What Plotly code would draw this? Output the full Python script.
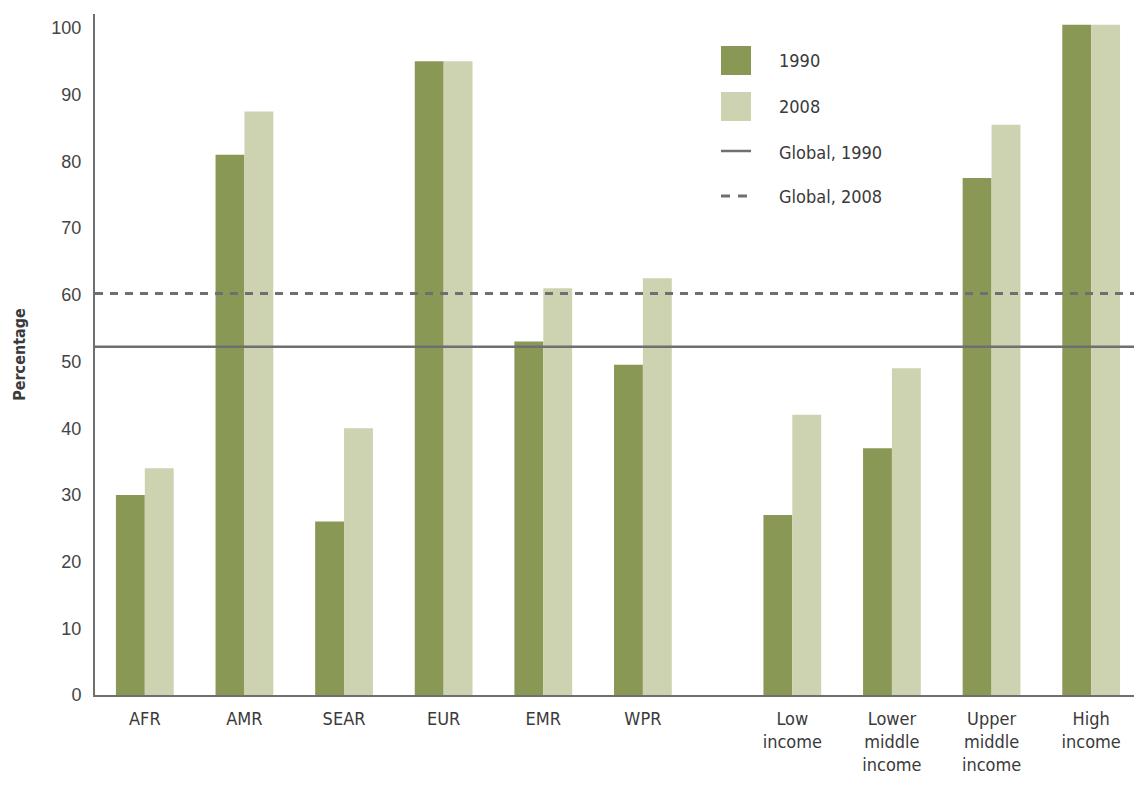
import plotly.graph_objects as go

categories = ["AFR", "AMR", "SEAR", "EUR", "EMR", "WPR",
              "Low<br>income", "Lower<br>middle<br>income", "Upper<br>middle<br>income", "High<br>income"]
x_pos = [0, 1, 2, 3, 4, 5, 6.5, 7.5, 8.5, 9.5]
v1990 = [30, 81, 26, 95, 53, 49.5, 27, 37, 77.5, 100.5]
v2008 = [34, 87.5, 40, 95, 61, 62.5, 42, 49, 85.5, 100.5]
global_1990 = 52.2
global_2008 = 60.2
y_ticks = [0, 10, 20, 30, 40, 50, 60, 70, 80, 90, 100]

C1990 = "#8a9856"
C2008 = "#cdd3b1"
GRAY = "#6f6f6f"
TXT = "#3a3a3a"
COND = "Liberation Sans Narrow, DejaVu Sans Condensed, Arial Narrow, Liberation Sans, sans-serif"

W, H = 1134, 796
L, R, T, B = 95, 0, 14, 101
PW, PH = W - L - R, H - T - B

def px(x):
    return (x - L) / PW

def py(y):
    return (H - B - y) / PH

fig = go.Figure()
fig.add_trace(go.Bar(x=x_pos, y=v1990, name="1990", marker_color=C1990, marker_line_width=0))
fig.add_trace(go.Bar(x=x_pos, y=v2008, name="2008", marker_color=C2008, marker_line_width=0))

fig.add_hline(y=global_1990, line=dict(color=GRAY, width=2.5, dash="solid"))
fig.add_hline(y=global_2008, line=dict(color=GRAY, width=3, dash="8px,7px"))

# legend
fig.add_shape(type="rect", xref="paper", yref="paper", x0=px(721), x1=px(751), y0=py(75), y1=py(46),
              fillcolor=C1990, line_width=0)
fig.add_shape(type="rect", xref="paper", yref="paper", x0=px(721), x1=px(751), y0=py(121), y1=py(92),
              fillcolor=C2008, line_width=0)
fig.add_shape(type="line", xref="paper", yref="paper", x0=px(721), x1=px(751), y0=py(151), y1=py(151),
              line=dict(color=GRAY, width=2.5))
fig.add_shape(type="line", xref="paper", yref="paper", x0=px(721), x1=px(751), y0=py(196), y1=py(196),
              line=dict(color=GRAY, width=3, dash="9px,8px"))

for txt, yy in [("1990", 61), ("2008", 106), ("Global, 1990", 152), ("Global, 2008", 197)]:
    fig.add_annotation(x=px(777), y=py(yy), xref="paper", yref="paper", text=txt, showarrow=False,
                       xanchor="left", yanchor="middle", font=dict(family=COND, size=18, color=TXT))

fig.update_layout(
    width=W, height=H,
    margin=dict(l=L, r=R, t=T, b=B),
    plot_bgcolor="white", paper_bgcolor="white",
    barmode="group", bargap=0.42, bargroupgap=0,
    showlegend=False,
    xaxis=dict(range=[-0.5, 9.93], tickvals=x_pos, ticktext=categories, showgrid=False, zeroline=False,
               showline=True, linecolor=GRAY, linewidth=2, ticks="", ticklabelstandoff=6,
               tickfont=dict(family=COND, size=18, color=TXT)),
    yaxis=dict(range=[0, 102.1], tickvals=y_ticks, showgrid=False, zeroline=False,
               showline=True, linecolor=GRAY, linewidth=2, ticks="", ticklabelstandoff=8,
               tickfont=dict(family="Liberation Sans, Arial, sans-serif", size=18, color="#444444"),
               title=dict(text="<b>Percentage</b>", font=dict(family=COND, size=16, color=TXT), standoff=22)),
)

fig.write_html("out.html")
